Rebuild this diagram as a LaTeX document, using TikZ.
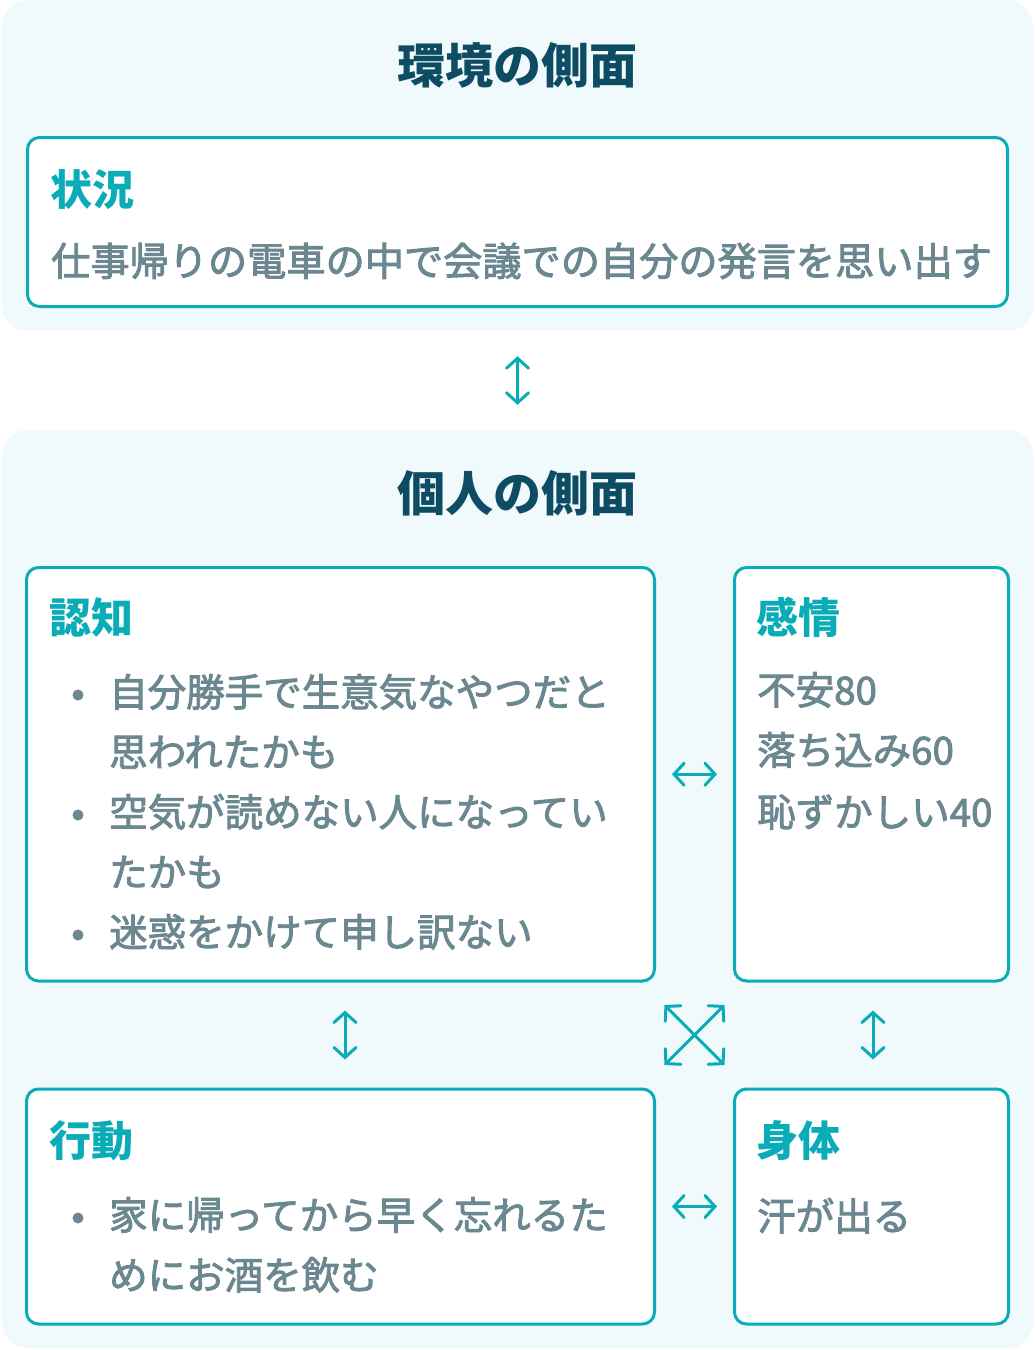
\documentclass[tikz,border=0pt]{standalone}
\usepackage{fontspec}
\setmainfont{Noto Sans CJK JP}
\newfontfamily\medf{Noto Sans CJK JP}
\newcommand\embon{\special{pdf:literal direct 2 Tr 0.9 w}}
\newcommand\emboff{\special{pdf:literal direct 0 Tr}}
\usetikzlibrary{arrows.meta,calc}
\definecolor{teal}{HTML}{0AACB7}
\definecolor{darkt}{HTML}{0D4C63}
\definecolor{bodyg}{HTML}{6B8790}
\definecolor{panel}{HTML}{F0F9FB}
\tikzset{
  panelbox/.style={fill=panel, draw=none, rounded corners=25pt, inner sep=0pt},
  box/.style={draw=teal, line width=3pt, fill=white, rounded corners=12pt, inner sep=0pt},
  ttl/.style={font=\fontsize{48}{52}\selectfont\bfseries, text=darkt, inner sep=0pt, text height=40.8pt, text depth=7.2pt},
  sub/.style={font=\fontsize{42}{46}\selectfont\bfseries, text=teal, inner sep=0pt, anchor=west, text height=35.7pt, text depth=6.3pt},
  txt/.style={font=\medf\fontsize{38.5}{44}\selectfont, text=bodyg, inner sep=0pt, anchor=west, text height=32.7pt, text depth=5.8pt,
    execute at begin node=\embon, execute at end node=\emboff},
  stxt/.style={txt, font=\medf\fontsize{39.2}{44}\selectfont, text height=33.3pt, text depth=5.9pt},
  bul/.style={circle, fill=bodyg, inner sep=0pt, minimum size=11pt},
  dbl/.style={teal, line width=3pt, {Straight Barb[length=10pt,width=22pt,line cap=round]}-{Straight Barb[length=10pt,width=22pt,line cap=round]}}
}
\begin{document}
\begin{tikzpicture}[x=1pt,y=-1pt]
\useasboundingbox (0,0) rectangle (1035,1350);
% panels
\node[panelbox, minimum width=1031pt, minimum height=331pt] (env) at (517.5,165.5) {};
\node[panelbox, minimum width=1031pt, minimum height=918pt] (ind) at (517.5,889) {};
\node[ttl] (envt) at (517.5,67) {環境の側面};
\node[ttl] (indt) at (517.5,495) {個人の側面};
% boxes
\node[box, minimum width=980pt, minimum height=169pt] (sit) at (517.5,222) {};
\node[box, minimum width=628pt, minimum height=413.5pt] (cog) at (340.5,774.25) {};
\node[box, minimum width=274pt, minimum height=413.5pt] (emo) at (871.5,774.25) {};
\node[box, minimum width=628pt, minimum height=235pt] (beh) at (340.5,1206.5) {};
\node[box, minimum width=274pt, minimum height=235pt] (bod) at (871.5,1206.5) {};
% situation
\node[sub] (sitt) at (50,191) {状況};
\node[stxt] (sit1) at (51,262) {仕事帰りの電車の中で会議での自分の発言を思い出す};
% cognition
\node[sub] (cogt) at (49,619) {認知};
\node[bul] (cb1) at (78,695) {};
\node[txt] (cog1) at (109,693) {自分勝手で生意気なやつだと};
\node[txt] (cog2) at (109,753) {思われたかも};
\node[bul] (cb2) at (78,815) {};
\node[txt] (cog3) at (109,813) {空気が読めない人になってい};
\node[txt] (cog4) at (109,873) {たかも};
\node[bul] (cb3) at (78,935) {};
\node[txt] (cog5) at (109,933) {迷惑をかけて申し訳ない};
% emotion
\node[sub] (emot) at (756,619) {感情};
\node[txt] (emo1) at (757,691) {不安80};
\node[txt] (emo2) at (757,751) {落ち込み60};
\node[txt] (emo3) at (757,813) {恥ずかしい40};
% behavior
\node[sub] (beht) at (49,1142) {行動};
\node[bul] (bb1) at (78,1218) {};
\node[txt] (beh1) at (109,1216) {家に帰ってから早く忘れるた};
\node[txt] (beh2) at (109,1276) {めにお酒を飲む};
% body
\node[sub] (bodt) at (756,1142) {身体};
\node[txt] (bod1) at (757,1217) {汗が出る};
% arrows
\draw[dbl] ($(env.south)+(0,25)$) -- ($(ind.north)+(0,-25)$);
\draw[dbl] ($(cog.east)+(16,0)$) -- ($(emo.west)+(-16,0)$);
\draw[dbl] ($(beh.east)+(16,0)$) -- ($(bod.west)+(-16,0)$);
\draw[dbl] ($(cog.south)+(4.5,28)$) -- ($(beh.north)+(4.5,-28)$);
\draw[dbl] ($(emo.south)+(1.5,28)$) -- ($(bod.north)+(1.5,-28)$);
\coordinate (mid) at ($(cog.south east)!0.5!(bod.north west)$);
\coordinate (xa) at ($(mid)+(-30,-30)$);
\coordinate (xb) at ($(mid)+(30,30)$);
\coordinate (xc) at ($(mid)+(30,-30)$);
\coordinate (xd) at ($(mid)+(-30,30)$);
\draw[dbl] (xa) -- (xb);
\draw[dbl] (xc) -- (xd);
\end{tikzpicture}
\end{document}
